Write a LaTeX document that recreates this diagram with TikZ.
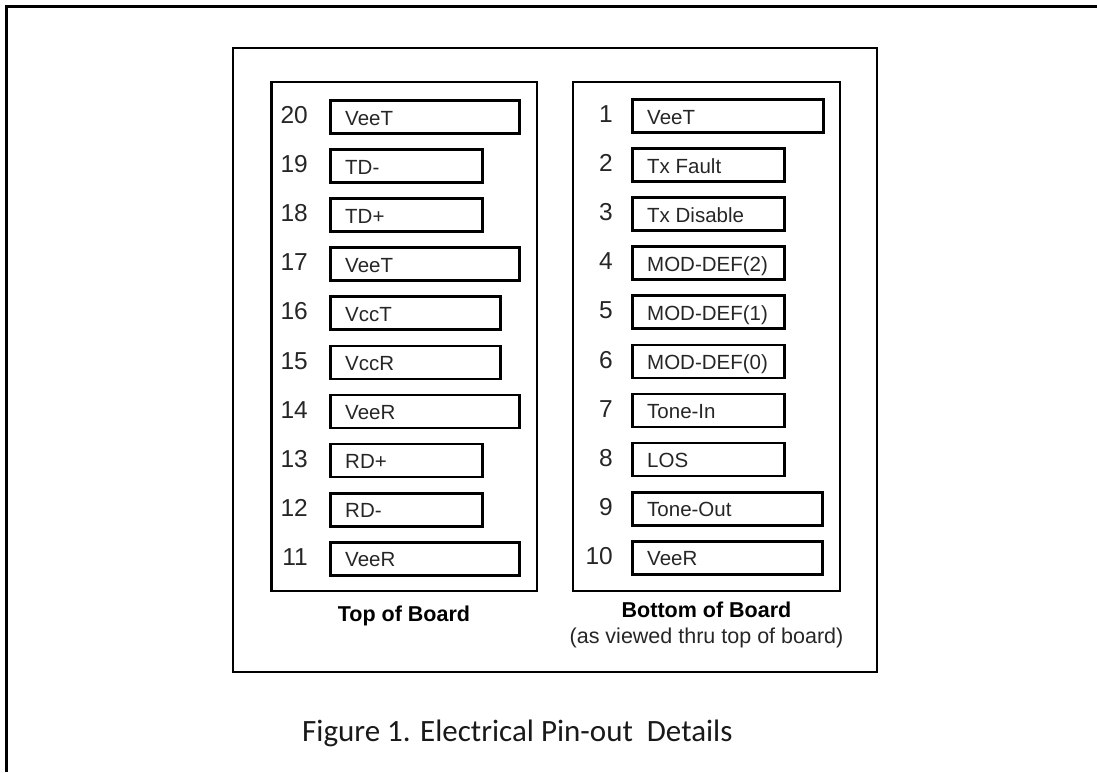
\documentclass[tikz,border=0pt]{standalone}
\usepackage{fontspec}
\setmainfont{Liberation Sans}
\newfontfamily\capfont{Carlito}
\begin{document}
\begin{tikzpicture}[x=1pt,y=-1pt,
  frame/.style={draw, line width=2.7pt},
  pinbox/.style={draw, line width=2.7pt, minimum height=33pt, inner sep=0pt, anchor=north west},
  pinlabel/.style={anchor=base west, inner sep=0pt, text=black!85, font=\fontsize{20.5}{24}\selectfont},
  pinnum/.style={anchor=base east, inner sep=0pt, text=black!85, font=\fontsize{24.5}{28}\selectfont},
  boardtitle/.style={anchor=base, inner sep=0pt, font=\bfseries\fontsize{21.5}{25}\selectfont},
  boardnote/.style={anchor=base, inner sep=0pt, text=black!85, font=\fontsize{21.5}{25}\selectfont}]
\useasboundingbox (0,0) rectangle (1097,772);
% outer frame (cropped at right and bottom)
\draw[line width=2.2pt] (6.5,772) -- (6.5,6.5) -- (1097,6.5);
% middle frame
\draw[frame] (233,48) rectangle (877,672);
% panels
\draw[frame] (271.5,82) rectangle (537,591);
\draw[frame] (573,82) rectangle (840,591);
% left pins
\foreach \n/\t/\w [count=\i from 0] in {20/VeeT/189,19/TD-/152,18/TD+/152,17/VeeT/189,16/VccT/170,15/VccR/170,14/VeeR/189,13/RD+/152,12/RD-/152,11/VeeR/189}{
  \node[pinbox, minimum width=\w pt] (b\n) at (329,{99+49.1*\i}) {};
  \node[pinlabel] (t\n) at (345,{99+49.1*\i+26}) {\t};
  \node[pinnum] (n\n) at (308,{99+49.1*\i+24.5}) {\n};
}
% right pins
\foreach \n/\t/\w [count=\i from 0] in {1/VeeT/191,2/Tx Fault/152,3/Tx Disable/152,4/MOD-DEF(2)/152,5/MOD-DEF(1)/152,6/MOD-DEF(0)/152,7/Tone-In/152,8/LOS/152,9/Tone-Out/190,10/VeeR/190}{
  \node[pinbox, minimum width=\w pt] (b\n) at (631,{98+49.1*\i}) {};
  \node[pinlabel] (t\n) at (647,{98+49.1*\i+26}) {\t};
  \node[pinnum] (n\n) at (613,{98+49.1*\i+24.5}) {\n};
}
\node[boardtitle] (top) at (404,621) {Top of Board};
\node[boardtitle] (bottom) at (706.5,617) {Bottom of Board};
\node[boardnote] (note) at (706.5,643) {(as viewed thru top of board)};
\node[anchor=base west, inner sep=0pt, font=\capfont\fontsize{31}{36}\selectfont, text=black!90] (cap) at (302,741) {Figure 1. Electrical Pin-out\ \ Details};
\end{tikzpicture}
\end{document}
